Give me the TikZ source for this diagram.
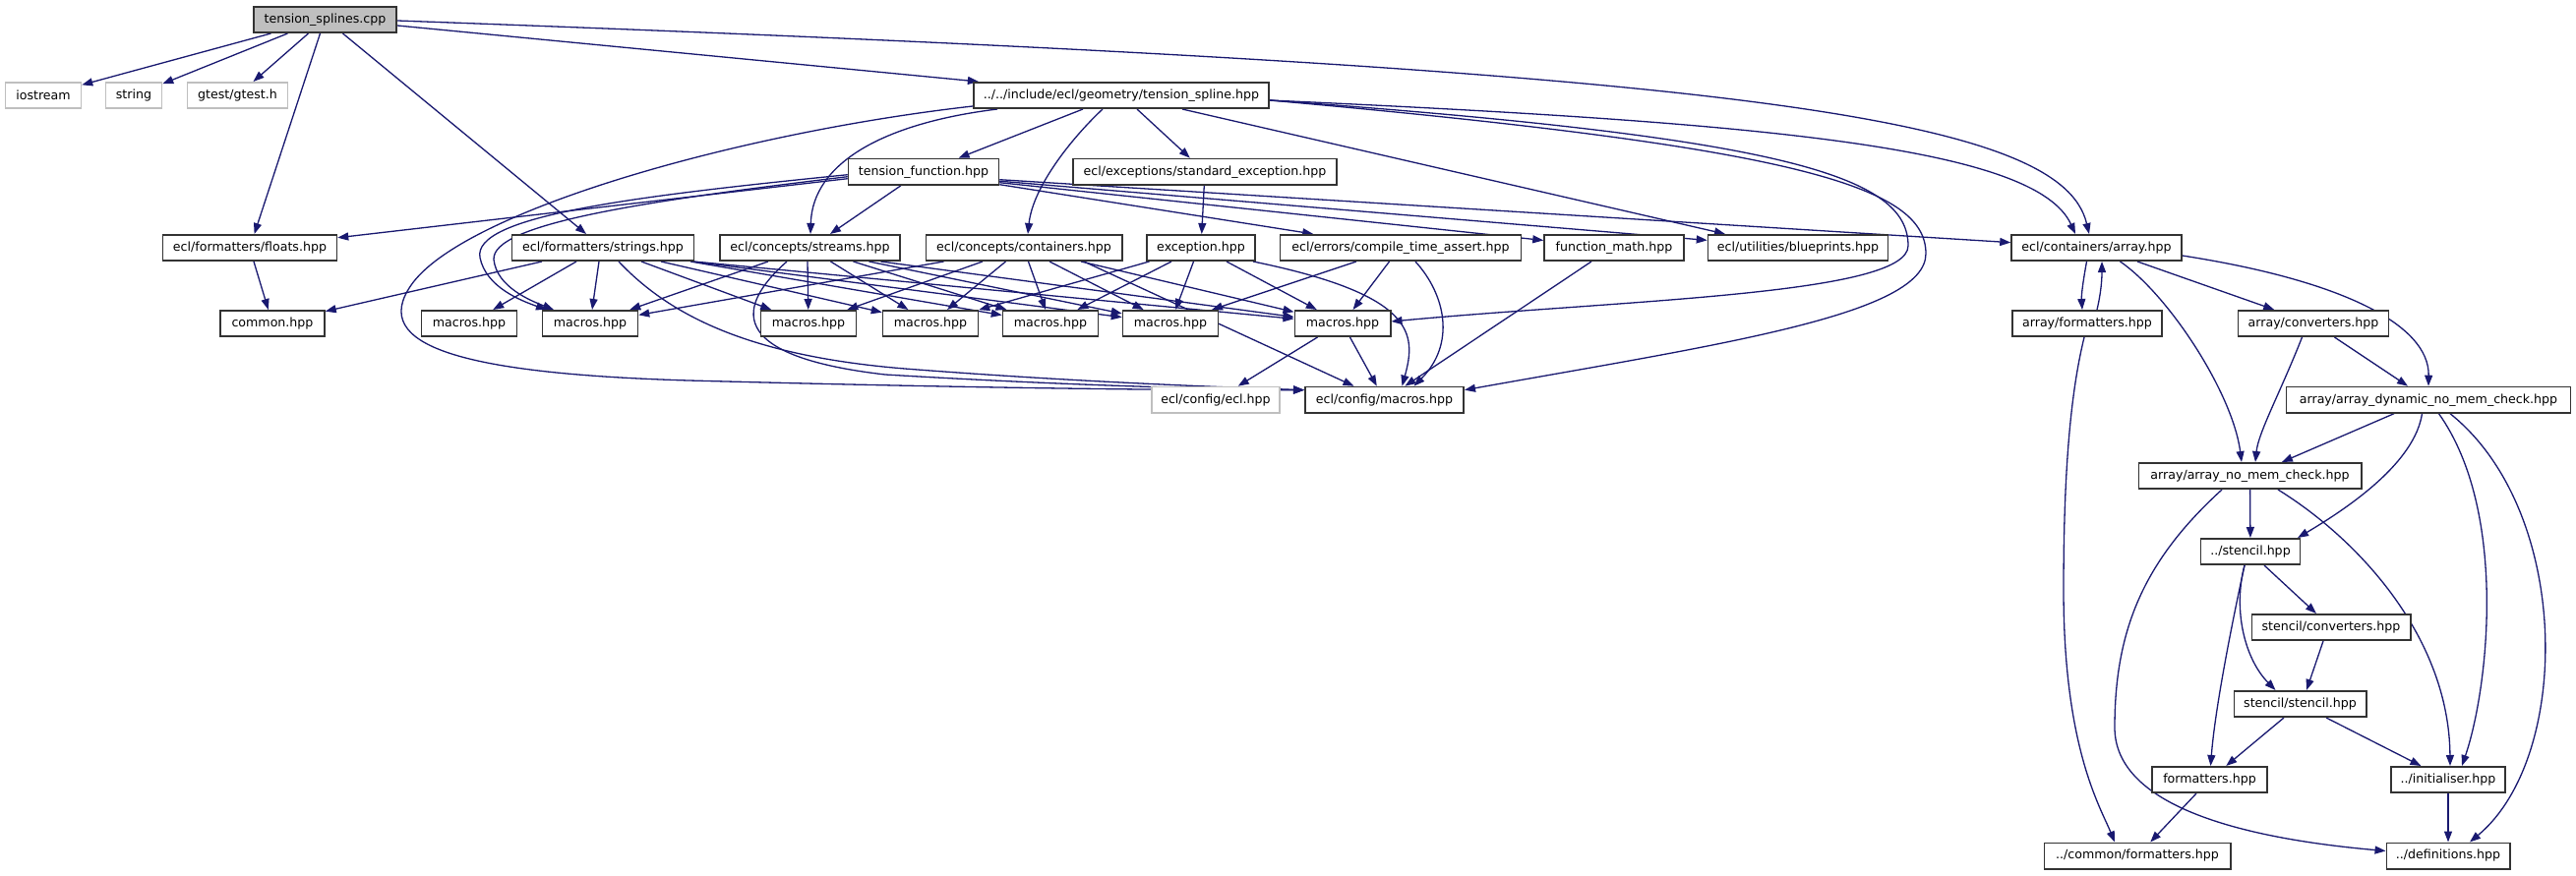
\documentclass[tikz,border=0pt]{standalone}
\usepackage{fontspec}
\setmainfont{DejaVu Sans}
\usetikzlibrary{arrows.meta,backgrounds}
\definecolor{edgeblue}{HTML}{191970}
\definecolor{lightgr}{HTML}{BFBFBF}
\definecolor{bordcol}{HTML}{333333}
\begin{document}
\begin{tikzpicture}[x=1pt,y=-1pt,
  nd/.style={draw=bordcol, line width=1.7pt, fill=white, minimum height=26.3pt, inner sep=0pt, font=\fontsize{12.6}{15}\selectfont, text=black},
  gn/.style={nd, draw=lightgr},
  rn/.style={nd, fill=lightgr},
  ed/.style={draw=edgeblue, line width=1.3pt, -{Triangle[length=11pt,width=8pt]}}]
\useasboundingbox (0,0) rectangle (2619,891);
% nodes
\node[rn, minimum width=145.3pt] (root) at (330.5,20) {tension\_splines.cpp};
\node[gn, minimum width=76.8pt] (ios) at (44,97) {iostream};
\node[gn, minimum width=56.8pt] (str) at (136,97) {string};
\node[gn, minimum width=101.8pt] (gt) at (241.5,97) {gtest/gtest.h};
\node[nd, minimum width=300.3pt] (ts) at (1140,97) {../../include/ecl/geometry/tension\_spline.hpp};
\node[nd, minimum width=152.8pt] (tf) at (939,174.7) {tension\_function.hpp};
\node[nd, minimum width=268.3pt] (se) at (1225,174.7) {ecl/exceptions/standard\_exception.hpp};
\node[nd, minimum width=176.8pt] (fl) at (254,252) {ecl/formatters/floats.hpp};
\node[nd, minimum width=184.8pt] (sr) at (613,252) {ecl/formatters/strings.hpp};
\node[nd, minimum width=183.3pt] (stm) at (823.5,252) {ecl/concepts/streams.hpp};
\node[nd, minimum width=199.3pt] (cn) at (1041,252) {ecl/concepts/containers.hpp};
\node[nd, minimum width=110.3pt] (ex) at (1221,252) {exception.hpp};
\node[nd, minimum width=244.8pt] (cta) at (1424,252) {ecl/errors/compile\_time\_assert.hpp};
\node[nd, minimum width=141.8pt] (fm) at (1641,252) {function\_math.hpp};
\node[nd, minimum width=182.8pt] (bp) at (1828,252) {ecl/utilities/blueprints.hpp};
\node[nd, minimum width=172.8pt] (arr) at (2131.5,252) {ecl/containers/array.hpp};
\node[nd, minimum width=105.8pt] (cm) at (277,329) {common.hpp};
\node[nd, minimum width=96.8pt] (m1) at (477,329) {macros.hpp};
\node[nd, minimum width=96.8pt] (m2) at (600,329) {macros.hpp};
\node[nd, minimum width=96.8pt] (m3) at (822,329) {macros.hpp};
\node[nd, minimum width=96.8pt] (m4) at (946,329) {macros.hpp};
\node[nd, minimum width=96.8pt] (m5) at (1068,329) {macros.hpp};
\node[nd, minimum width=96.8pt] (m6) at (1190,329) {macros.hpp};
\node[nd, minimum width=97.3pt] (m7) at (1365,329) {macros.hpp};
\node[nd, minimum width=152.3pt] (afm) at (2122,329) {array/formatters.hpp};
\node[nd, minimum width=152.8pt] (acv) at (2352,329) {array/converters.hpp};
\node[gn, minimum width=129.8pt] (cecl) at (1236,406.7) {ecl/config/ecl.hpp};
\node[nd, minimum width=161.3pt] (cmac) at (1407.5,406.7) {ecl/config/macros.hpp};
\node[nd, minimum width=288.8pt] (adyn) at (2469,406.7) {array/array\_dynamic\_no\_mem\_check.hpp};
\node[nd, minimum width=226.3pt] (anm) at (2287.5,484) {array/array\_no\_mem\_check.hpp};
\node[nd, minimum width=100.8pt] (sten) at (2288,561) {../stencil.hpp};
\node[nd, minimum width=161.3pt] (scv) at (2370,638) {stencil/converters.hpp};
\node[nd, minimum width=134.3pt] (sst) at (2338.5,716) {stencil/stencil.hpp};
\node[nd, minimum width=117pt] (fmt) at (2246.5,793) {formatters.hpp};
\node[nd, minimum width=115.9pt] (ini) at (2489,793) {../initialiser.hpp};
\node[nd, minimum width=189.3pt] (cfm) at (2173,870.5) {../common/formatters.hpp};
\node[nd, minimum width=125.3pt] (def) at (2489,870.5) {../definitions.hpp};
\begin{scope}[on background layer]
\fill[white] (0,0) rectangle (2619,891);
% root
\draw[ed] ([xshift=-55pt]root.south) -- (ios);
\draw[ed] ([xshift=-38pt]root.south) -- (str);
\draw[ed] ([xshift=-17pt]root.south) -- (gt);
\draw[ed] ([xshift=-5pt]root.south) -- (fl);
\draw[ed] ([xshift=18pt]root.south) -- (sr);
\draw[ed] ([yshift=-6pt]root.east) -- (ts);
\draw[ed] ([yshift=-1pt]root.east) .. controls (1750,70) and (2095,115) .. ([xshift=-7.5pt]arr.north);
% tension_spline
\draw[ed] ([xshift=-39pt]ts.south) -- (tf);
\draw[ed] ([xshift=-19pt]ts.south) .. controls (1090,140) and (1050,190) .. ([xshift=4pt]cn.north);
\draw[ed] ([xshift=16pt]ts.south) -- (se);
\draw[ed] ([xshift=-126pt]ts.south) .. controls (900,125) and (826,165) .. ([xshift=0.5pt]stm.north);
\draw[ed] ([xshift=62pt]ts.south) -- ([xshift=-74pt]bp.north);
\draw[ed] ([yshift=-5pt]ts.east) .. controls (1800,125) and (2070,150) .. ([xshift=-21.5pt]arr.north);
\draw[ed] ([yshift=-5pt]ts.east) .. controls (1820,140) and (1940,180) .. (1940,250) .. controls (1940,300) and (1650,305) .. ([yshift=2pt]m7.east);
\draw[ed] ([yshift=-5pt]ts.east) .. controls (1830,150) and (1958,190) .. (1958,258) .. controls (1958,320) and (1750,350) .. ([yshift=10pt]cmac.east);
\draw[ed] ([yshift=-11pt]ts.west) .. controls (750,135) and (470,215) .. (418,290) .. controls (375,352) and (470,380) .. (700,387) .. controls (1000,395) and (1200,397) .. ([yshift=10pt]cmac.west);
% tension_function
\draw[ed] ([xshift=-23pt]tf.south) -- (stm);
\draw[ed] ([yshift=-7pt]tf.west) -- (fl);
\draw[ed] ([yshift=-3pt]tf.west) .. controls (640,200) and (480,220) .. (488,262) .. controls (494,292) and (530,306) .. ([xshift=-44pt]m2.north);
\draw[ed] ([yshift=-5pt]tf.west) .. controls (650,205) and (500,228) .. (502,264) .. controls (505,292) and (540,306) .. ([xshift=-37pt]m2.north);
\draw[ed] ([yshift=-13pt]tf.east) -- (cta);
\draw[ed] ([yshift=-11pt]tf.east) -- (fm);
\draw[ed] ([yshift=-9.5pt]tf.east) -- (bp);
\draw[ed] ([yshift=-8pt]tf.east) -- (arr);
% standard_exception
\draw[ed] (se) -- (ex);
% floats
\draw[ed] ([xshift=4pt]fl.south) -- (cm);
% strings
\draw[ed] ([xshift=-62pt]sr.south) -- (cm);
\draw[ed] ([xshift=-27pt]sr.south) -- (m1);
\draw[ed] ([xshift=-4pt]sr.south) -- (m2);
\draw[ed] ([xshift=39pt]sr.south) -- (m3);
\draw[ed] ([xshift=59pt]sr.south) -- (m4);
\draw[ed] ([xshift=89pt]sr.south) -- (m5);
\draw[ed] ([xshift=91pt]sr.south) -- (m6);
\draw[ed] ([xshift=92.5pt]sr.south) -- (m7);
\draw[ed] ([xshift=16pt]sr.south) .. controls (680,320) and (760,362) .. (920,375) .. controls (1100,389) and (1250,394) .. ([yshift=10pt]cmac.west);
% streams
\draw[ed] ([xshift=-42.5pt]stm.south) -- (m2);
\draw[ed] ([xshift=-2.5pt]stm.south) -- (m3);
\draw[ed] ([xshift=21pt]stm.south) -- (m4);
\draw[ed] ([xshift=44pt]stm.south) -- (m5);
\draw[ed] ([xshift=60pt]stm.south) -- (m6);
\draw[ed] ([xshift=72pt]stm.south) -- (m7);
\draw[ed] ([xshift=-23.5pt]stm.south) .. controls (750,310) and (735,362) .. (900,381) .. controls (1100,393) and (1250,396) .. ([yshift=10pt]cmac.west);
% containers
\draw[ed] ([xshift=-81.5pt]cn.south) -- (m2);
\draw[ed] ([xshift=-42pt]cn.south) -- (m3);
\draw[ed] ([xshift=-18.5pt]cn.south) -- (m4);
\draw[ed] ([xshift=4.5pt]cn.south) -- (m5);
\draw[ed] ([xshift=26pt]cn.south) -- (m6);
\draw[ed] ([xshift=58pt]cn.south) -- (m7);
\draw[ed] ([xshift=61pt]cn.south) -- ([xshift=-31pt]cmac.north);
% exception
\draw[ed] ([xshift=-52.5pt]ex.south) -- (m4);
\draw[ed] ([xshift=-30pt]ex.south) -- (m5);
\draw[ed] ([xshift=-7.5pt]ex.south) -- (m6);
\draw[ed] ([xshift=26pt]ex.south) -- (m7);
\draw[ed] ([xshift=53pt]ex.south) .. controls (1440,300) and (1440,340) .. ([xshift=18pt]cmac.north);
% compile_time_assert
\draw[ed] ([xshift=-45pt]cta.south) -- (m6);
\draw[ed] ([xshift=-11.5pt]cta.south) -- (m7);
\draw[ed] ([xshift=15pt]cta.south) .. controls (1470,300) and (1480,350) .. ([xshift=30pt]cmac.north);
% function_math
\draw[ed] ([xshift=-23pt]fm.south) -- (cmac);
% macros (m7)
\draw[ed] ([xshift=-25.5pt]m7.south) -- (cecl);
\draw[ed] ([xshift=7.5pt]m7.south) -- (cmac);
% array
\draw[ed] ([xshift=-10pt]arr.south) .. controls (2118,285) and (2116,300) .. ([xshift=-5pt]afm.north);
\draw[ed] ([xshift=10pt]afm.north) .. controls (2136,298) and (2137,285) .. ([xshift=5.5pt]arr.south);
\draw[ed] ([xshift=24pt]arr.south) .. controls (2205,300) and (2270,400) .. ([xshift=-8.5pt]anm.north);
\draw[ed] ([xshift=41.5pt]arr.south) -- (acv);
\draw[ed] ([yshift=-8pt]arr.east) .. controls (2380,285) and (2470,330) .. (adyn.north);
\draw[ed] ([xshift=-3pt]afm.south) .. controls (2105,400) and (2098,480) .. (2098,600) .. controls (2098,760) and (2135,820) .. ([xshift=-23pt]cfm.north);
\draw[ed] ([xshift=-11.5pt]acv.south) .. controls (2318,400) and (2296,440) .. ([xshift=5.5pt]anm.north);
\draw[ed] ([xshift=21.5pt]acv.south) -- (adyn);
% array_dynamic
\draw[ed] ([xshift=-35pt]adyn.south) -- (anm);
\draw[ed] ([xshift=-6.5pt]adyn.south) .. controls (2455,470) and (2390,515) .. ([xshift=48pt]sten.north);
\draw[ed] ([xshift=10.5pt]adyn.south) .. controls (2550,520) and (2530,700) .. ([xshift=14pt]ini.north);
\draw[ed] ([xshift=22pt]adyn.south) .. controls (2615,520) and (2615,770) .. ([xshift=22pt]def.north);
% array_no_mem_check
\draw[ed] (anm) -- (sten);
\draw[ed] ([xshift=-28.5pt]anm.south) .. controls (2180,570) and (2150,640) .. (2150,740) .. controls (2150,810) and (2250,850) .. ([yshift=5pt]def.west);
\draw[ed] ([xshift=28.5pt]anm.south) .. controls (2400,550) and (2490,650) .. ([xshift=2pt]ini.north);
% stencil
\draw[ed] ([xshift=14pt]sten.south) -- (scv);
\draw[ed] ([xshift=-6pt]sten.south) .. controls (2270,620) and (2282,670) .. ([xshift=-25pt]sst.north);
\draw[ed] ([xshift=-6pt]sten.south) .. controls (2270,630) and (2252,720) .. ([xshift=1pt]fmt.north);
\draw[ed] ([xshift=-8pt]scv.south) -- ([xshift=6.5pt]sst.north);
\draw[ed] ([xshift=-16.5pt]sst.south) -- (fmt);
\draw[ed] ([xshift=26.5pt]sst.south) -- (ini);
\draw[ed] ([xshift=-13.5pt]fmt.south) -- (cfm);
\draw[ed] (ini) -- (def);
\end{scope}
\end{tikzpicture}
\end{document}
